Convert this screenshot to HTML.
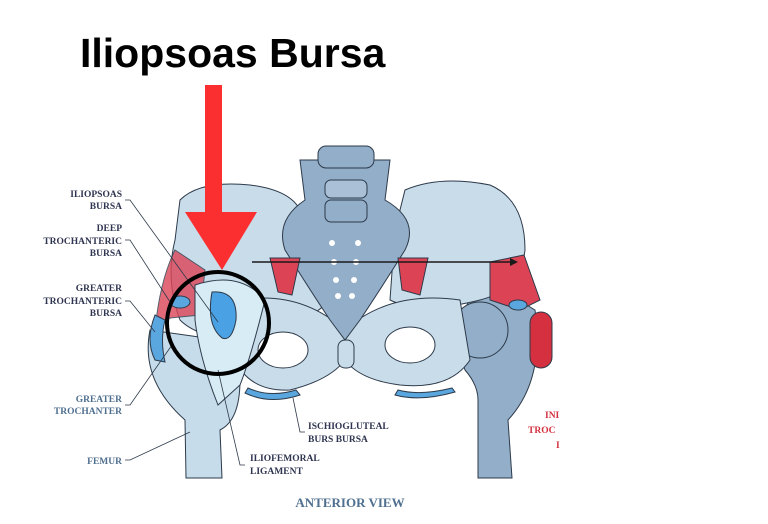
<!DOCTYPE html>
<html><head><meta charset="utf-8"><style>
html,body{margin:0;padding:0;background:#fff;}
svg{display:block}
</style></head><body>
<svg width="768" height="524" viewBox="0 0 768 524" xmlns="http://www.w3.org/2000/svg">
<rect width="768" height="524" fill="#fff"/>
<g stroke="#2d3a4a" stroke-width="1">
<!-- left femur -->
<path d="M150 330 Q140 380 185 420 L186 478 L222 478 L220 430 Q240 420 240 380 L220 340 Z" fill="#c6dcea"/>
<!-- right femur -->
<path d="M470 300 Q450 330 465 370 Q478 385 478 400 L478 478 L512 478 L508 420 Q545 380 535 310 Q505 290 470 300 Z" fill="#93aec8"/>
<circle cx="480" cy="330" r="28" fill="#93aec8"/>
<!-- left ilium -->
<path d="M180 200 Q200 180 250 185 Q290 190 300 210 L330 300 Q300 330 250 340 Q200 340 180 320 Q165 280 175 240 Z" fill="#c9dcea"/>
<!-- right ilium -->
<path d="M405 190 Q440 175 490 185 Q525 200 525 250 Q520 290 480 300 Q420 315 390 300 L395 230 Z" fill="#c9dcea"/>
<!-- lower pelvis -->
<path d="M240 300 Q300 290 345 330 Q390 290 460 300 L470 360 Q450 390 400 385 Q360 380 345 360 Q330 380 290 390 Q250 392 235 360 Z" fill="#c9dcea"/>
<ellipse cx="283" cy="350" rx="25" ry="18" fill="#fff"/>
<ellipse cx="410" cy="345" rx="25" ry="18" fill="#fff"/>
<rect x="338" y="340" width="16" height="28" rx="7" fill="#c9dcea"/>
<!-- sacrum -->
<path d="M300 160 L390 160 L385 200 Q420 220 405 250 Q380 290 360 320 L345 340 L330 320 Q310 290 285 250 Q275 220 305 200 Z" fill="#93aec8"/>
<rect x="318" y="146" width="56" height="22" rx="8" fill="#93aec8"/>
<rect x="325" y="180" width="42" height="18" rx="6" fill="#a9c0d6"/>
<rect x="325" y="200" width="42" height="22" rx="6" fill="#93aec8"/>
<!-- muscles -->
<path d="M270 258 L300 258 L292 295 L278 292 Z" fill="#dc4456"/>
<path d="M398 258 L428 258 L420 295 L402 290 Z" fill="#dc4456"/>
<path d="M175 250 L205 270 L200 315 L170 318 L155 330 Q160 280 175 250 Z" fill="#dc4456" opacity="0.8"/>
<path d="M490 262 L524 255 L540 300 L520 310 L490 300 Z" fill="#dc4456"/>
<rect x="530" y="312" width="22" height="56" rx="11" fill="#d4303f"/>
<!-- ligament -->
<path d="M195 285 Q240 270 265 300 Q250 360 240 385 L218 405 Q200 360 195 320 Z" fill="#d8ecf5"/>
<path d="M155 315 Q145 340 155 360 L165 362 Q160 340 165 320 Z" fill="#5aa6de"/>
<path d="M212 292 Q238 290 236 320 Q232 342 222 338 Q206 325 212 292 Z" fill="#4aa2e4"/>
<ellipse cx="180" cy="302" rx="10" ry="6" fill="#5aa6de"/>
<ellipse cx="518" cy="305" rx="9" ry="5" fill="#5aa6de"/>
<path d="M245 393 Q270 405 300 395 L296 390 Q270 398 248 388 Z" fill="#5aa6de"/>
<path d="M395 395 Q420 402 455 392 L452 388 Q420 396 398 390 Z" fill="#5aa6de"/>
</g>
<g fill="#fff"><circle cx="332" cy="243" r="3"/><circle cx="358" cy="243" r="3"/><circle cx="334" cy="262" r="3"/><circle cx="356" cy="262" r="3"/><circle cx="336" cy="280" r="3"/><circle cx="354" cy="280" r="3"/><circle cx="338" cy="296" r="3"/><circle cx="352" cy="296" r="3"/></g>
<!-- leader lines -->
<g stroke="#2d3a4a" stroke-width="0.8" fill="none">
<path d="M125 200 L130 200 L218 322"/>
<path d="M125 240 L130 240 L172 305"/>
<path d="M125 301 L130 301 L155 332"/>
<path d="M125 405 L130 405 L172 345"/>
<path d="M125 460 L130 460 L190 432"/>
<path d="M245 465 L240 465 L218 370"/>
<path d="M305 432 L300 432 L293 398"/>
</g>
<!-- labels -->
<g font-family="Liberation Serif, serif" font-weight="bold" font-size="9.5" fill="#2f3550" text-anchor="end">
<text x="122" y="197">ILIOPSOAS</text><text x="122" y="209">BURSA</text>
<text x="122" y="231">DEEP</text><text x="122" y="244">TROCHANTERIC</text><text x="122" y="256">BURSA</text>
<text x="122" y="291">GREATER</text><text x="122" y="304">TROCHANTERIC</text><text x="122" y="316">BURSA</text>
<text x="122" y="402" fill="#4f6f8f">GREATER</text><text x="122" y="414" fill="#4f6f8f">TROCHANTER</text>
<text x="122" y="464" fill="#4f6f8f">FEMUR</text>
</g>
<g font-family="Liberation Serif, serif" font-weight="bold" font-size="9.5" fill="#2f3550">
<text x="308" y="429">ISCHIOGLUTEAL</text><text x="308" y="442">BURS BURSA</text>
<text x="250" y="461">ILIOFEMORAL</text><text x="250" y="474">LIGAMENT</text>
<text x="545" y="418" fill="#d4303f">INI</text><text x="528" y="433" fill="#d4303f">TROC</text><text x="556" y="448" fill="#d4303f">I</text>
<text x="350" y="507" text-anchor="middle" font-size="13" fill="#4f6f8f">ANTERIOR VIEW</text>
</g>
<rect x="562" y="150" width="206" height="374" fill="#fff"/>
<!-- black arrow -->
<line x1="252" y1="262" x2="512" y2="262" stroke="#1a1a1a" stroke-width="1.5"/>
<path d="M510 258 L518 262 L510 266 Z" fill="#1a1a1a"/>
<!-- circle -->
<circle cx="218" cy="323" r="51" fill="none" stroke="#000" stroke-width="4"/>
<!-- red arrow -->
<rect x="205" y="85" width="17" height="128" fill="#fb2f2f"/>
<path d="M185 212 L257 212 L222 270 Z" fill="#fb2f2f"/>
<!-- title -->
<text x="80" y="67" font-family="Liberation Sans, sans-serif" font-weight="bold" font-size="41" fill="#000">Iliopsoas Bursa</text>
</svg>
</body></html>
